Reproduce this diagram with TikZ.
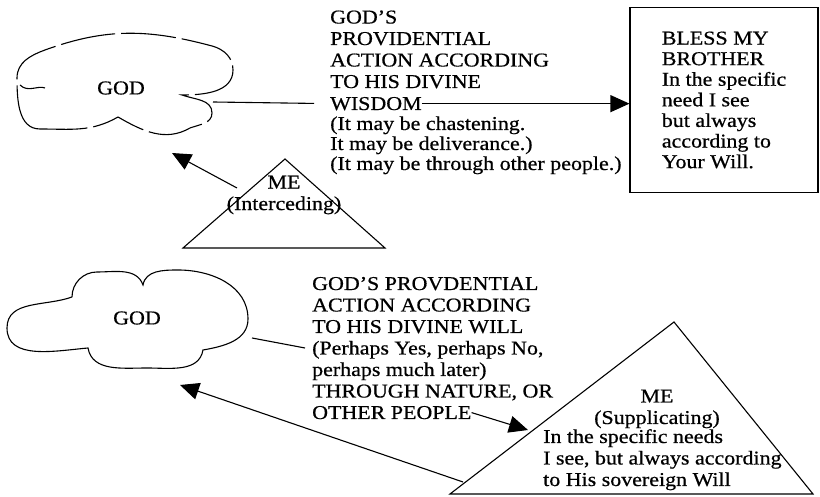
\documentclass[tikz,border=0pt]{standalone}
\usepackage{fontspec}
\setmainfont{Liberation Serif}[FakeStretch=1.12,FakeBold=0.6]
\usetikzlibrary{arrows.meta,positioning}

\begin{document}
\begin{tikzpicture}[x=1pt,y=1pt,
	txt/.style={inner sep=0pt,align=left,font=\fontsize{19.6}{21.5}\selectfont},
	small/.style={inner sep=0pt,align=left,font=\fontsize{19.6}{20}\selectfont},
	ln/.style={line width=1.1pt},
	arr/.style={line width=1.1pt,-{Triangle[length=19pt,width=17pt]}}]
	\useasboundingbox (0,0) rectangle (820,497);

	\node (god1) at (121,409) {\fontsize{19.6}{21}\selectfont GOD};
	\draw[ln,dash pattern=on 55pt off 6pt] (40,368) to[out=180,in=270] (17,419) to[out=90,in=200] (45,447)
		to[out=20,in=165] (212,451) to[out=-15,in=90] (233,427) to[out=-90,in=0] (182,402)
		to[out=-20,in=90] (212,384) to[out=-90,in=20] (190,369) to[out=-150,in=-30] (118,380)
		to[out=-150,in=0] (40,368);
	\draw[ln] (20,412) .. controls (28,404) and (38,412) .. (45,409);

	\node (god2) at (137,179) {\fontsize{19.6}{21}\selectfont GOD};
	\draw[ln] (72,200) to[out=200,in=90] (7,169) to[out=-90,in=185] (88,149)
		to[out=-80,in=180] (147,129) to[out=0,in=-100] (203,147)
		to[out=10,in=-90] (248,178) to[out=90,in=0] (178,227) to[out=180,in=80] (143,212)
		to[out=110,in=0] (97,225) to[out=180,in=90] (72,200);

	\node[txt,anchor=base west] (prov1) at (330,409) {GOD'S\\PROVIDENTIAL\\ACTION ACCORDING\\TO HIS DIVINE};
	\node[txt,anchor=base west] (wisdom) at (330,387) {WISDOM};
	\node[small,anchor=base west] (maybe1) at (330,327) {(It may be chastening.\\It may be deliverance.)\\(It may be through other people.)};
	\node[draw,ln,minimum width=188pt,minimum height=185pt,align=left,
		font=\fontsize{19.6}{20.6}\selectfont] (bless) at (724,397)
		{BLESS MY\\BROTHER\\In the specific\\need I see\\but always\\according to\\Your Will.};

	\coordinate (c1e) at (213,395);
	\draw[ln,shorten >=16pt] (c1e) -- (wisdom.west);
	\draw[arr] (wisdom.east) -- (bless.west |- wisdom.east);

	\coordinate (t1l) at (183,249);
	\coordinate (t1t) at (285,338);
	\coordinate (t1r) at (385,249);
	\draw[ln] (t1l) -- (t1t) -- (t1r) -- cycle;
	\node[txt,align=center] (me1) at (284,302) {ME\\(Interceding)};
	\coordinate (a1s) at (237,309);
	\coordinate (a1e) at (172,344);
	\draw[arr] (a1s) -- (a1e);

	\node[txt,anchor=base west] (prov2) at (312,99.5) {GOD'S PROVDENTIAL\\ACTION ACCORDING\\TO HIS DIVINE WILL\\(Perhaps Yes, perhaps No,\\perhaps much later)\\THROUGH NATURE, OR};
	\node[txt,anchor=base west] (people) at (312,78) {OTHER PEOPLE};
	\coordinate (c2e) at (252,159);
	\coordinate (perhaps) at (305,149);
	\draw[ln] (c2e) -- (perhaps);

	\coordinate (t2l) at (450,3);
	\coordinate (t2t) at (674,175);
	\coordinate (t2r) at (813,3);
	\draw[ln] (t2l) -- (t2t) -- (t2r) -- cycle;
	\node[txt,align=center,anchor=base] (me2) at (657,73) {ME\\(Supplicating)};
	\node[txt,anchor=base west] (need2) at (543,11) {In the specific needs\\I see, but always according\\to His sovereign Will};
	\coordinate (a2t) at (528,67);
	\draw[arr] (people.east) -- (a2t);
	\coordinate (a2s) at (463,15);
	\coordinate (a2e) at (180,112);
	\draw[arr] (a2s) -- (a2e);
\end{tikzpicture}
\end{document}
